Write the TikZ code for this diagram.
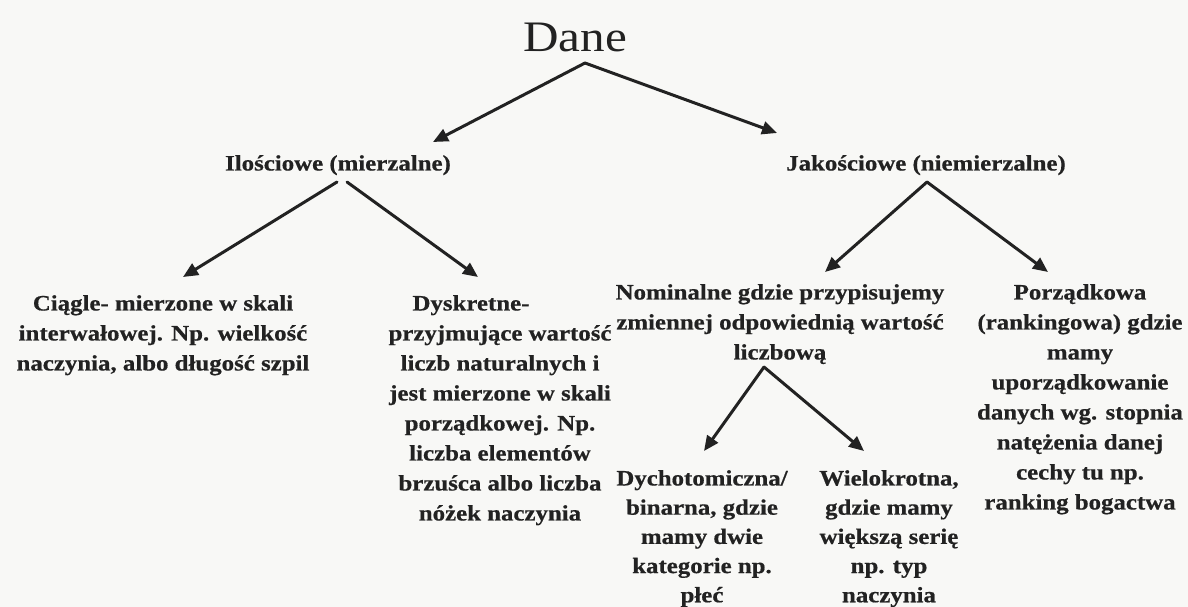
\documentclass[tikz,border=0pt]{standalone}
\usepackage{fontspec}
\setmainfont{Liberation Serif}[FakeStretch=1.13, BoldFeatures={FakeBold=0.6}]
\usetikzlibrary{arrows.meta}
\definecolor{ink}{HTML}{222222}
\definecolor{paper}{HTML}{F8F8F6}
\begin{document}
\begin{tikzpicture}[x=1pt,y=-1pt,
  lbl/.style={font=\fontsize{22}{30}\selectfont\bfseries, text=ink, align=center, inner sep=0pt, anchor=north},
  arr/.style={draw=ink, line width=3pt, line cap=round, -{Triangle[length=15pt,width=13pt]}}]
\fill[paper] (0,0) rectangle (1188,607);
\useasboundingbox (0,0) rectangle (1188,607);
% nodes
\node[font=\fontsize{43.5}{50}\selectfont, text=ink, inner sep=0pt, anchor=base] (dane) at (575,52) {Dane};
\node[lbl] (ilo) at (338,155) {Ilościowe (mierzalne)};
\node[lbl] (jak) at (926,155) {Jakościowe (niemierzalne)};
\node[lbl] (ciagle) at (163,295) {Ciągle- mierzone w skali\\interwałowej. Np. wielkość\\naczynia, albo długość szpil};
\node[lbl] (dysk) at (500,295) {Dyskretne-\hspace*{58pt}\\przyjmujące wartość\\liczb naturalnych i\\jest mierzone w skali\\porządkowej. Np.\\liczba elementów\\brzuśca albo liczba\\nóżek naczynia};
\node[lbl] (nom) at (780,284) {Nominalne gdzie przypisujemy\\zmiennej odpowiednią wartość\\liczbową};
\node[lbl] (porz) at (1080,284) {Porządkowa\\(rankingowa) gdzie\\mamy\\uporządkowanie\\danych wg. stopnia\\natężenia danej\\cechy tu np.\\ranking bogactwa};
\node[lbl,font=\fontsize{22}{29.2}\selectfont\bfseries] (dych) at (702,470) {Dychotomiczna/\\binarna, gdzie\\mamy dwie\\kategorie np.\\płeć};
\node[lbl,font=\fontsize{22}{29.2}\selectfont\bfseries] (wiel) at (889,470) {Wielokrotna,\\gdzie mamy\\większą serię\\np. typ\\naczynia};
% connector ends
\coordinate (dane-o) at (585,63);
\coordinate (ilo-i) at (433,142);
\coordinate (jak-i) at (777,133);
\coordinate (ilo-o1) at (337,182);
\coordinate (ilo-o2) at (347,182);
\coordinate (ciagle-i) at (183,277);
\coordinate (dysk-i) at (478,277);
\coordinate (jak-o) at (927,182);
\coordinate (nom-i) at (825,272);
\coordinate (porz-i) at (1048,272);
\coordinate (nom-o) at (764,367);
\coordinate (dych-i) at (704,451);
\coordinate (wiel-i) at (864,451);
% connectors
\draw[arr] (dane-o) -- (ilo-i);
\draw[arr] (dane-o) -- (jak-i);
\draw[arr] (ilo-o1) -- (ciagle-i);
\draw[arr] (ilo-o2) -- (dysk-i);
\draw[arr] (jak-o) -- (nom-i);
\draw[arr] (jak-o) -- (porz-i);
\draw[arr] (nom-o) -- (dych-i);
\draw[arr] (nom-o) -- (wiel-i);
\end{tikzpicture}
\end{document}
